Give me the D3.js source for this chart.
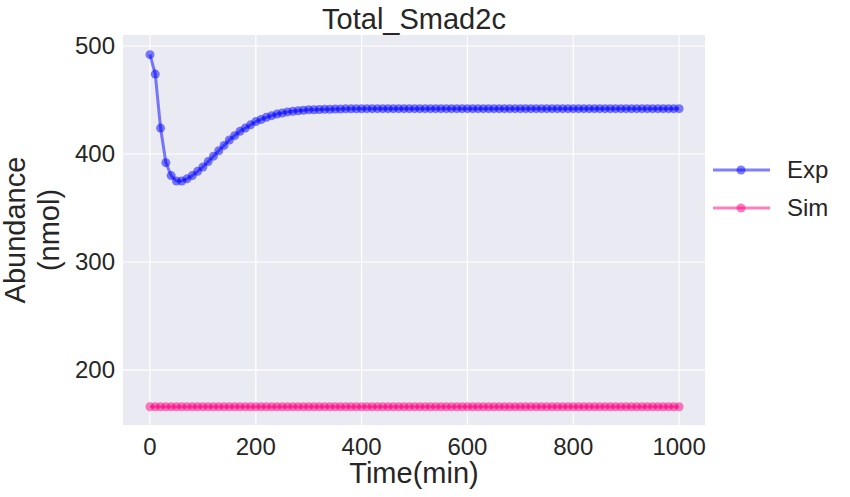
<!DOCTYPE html>
<html><head><meta charset="utf-8">
<script src="https://cdn.jsdelivr.net/npm/d3@7"></script>
<style>body{margin:0;background:#fff;font-family:"Liberation Sans",Arial,sans-serif}</style>
</head><body><svg id="c" width="850" height="497"></svg>
<script>
const times = d3.range(0, 1001, 10);
const expValues = [492,474,424,392,380,375,375,377,380,384,388,393,398,403,408,413,417,421,424,427,430,432,434,435.5,437,438,439,439.5,440,440.5,441,441,441.2,441.4,441.5,441.6,441.7,441.8,441.8,441.9,441.9,442,442,442,442,442,442,442,442,442,442,442,442,442,442,442,442,442,442,442,442,442,442,442,442,442,442,442,442,442,442,442,442,442,442,442,442,442,442,442,442,442,442,442,442,442,442,442,442,442,442,442,442,442,442,442,442,442,442,442,442];
const simValues = times.map(() => 166);
const xTicks = [0,200,400,600,800,1000];
const yTicks = [200,300,400,500];

const svg = d3.select("#c");
const L=123,R=705,T=35,B=425;
const x = d3.scaleLinear().domain([-51,1049]).range([L,R]);
const y = d3.scaleLinear().domain([149.1,510.2]).range([B,T]);

svg.append("rect").attr("x",L).attr("y",T).attr("width",R-L).attr("height",B-T).attr("fill","#eaeaf2");
svg.selectAll(".gx").data(xTicks).enter().append("line").attr("x1",d=>x(d)).attr("x2",d=>x(d)).attr("y1",T).attr("y2",B).attr("stroke","#fff").attr("stroke-width",1.2);
svg.selectAll(".gy").data(yTicks).enter().append("line").attr("y1",d=>y(d)).attr("y2",d=>y(d)).attr("x1",L).attr("x2",R).attr("stroke","#fff").attr("stroke-width",1.2);

const series = [{name:"Exp",vals:expValues,color:"#0000ff"},{name:"Sim",vals:simValues,color:"#ff0080"}];
const line = d3.line().x((d,i)=>x(times[i])).y(d=>y(d));
series.forEach(s=>{
  svg.append("path").attr("d",line(s.vals)).attr("fill","none").attr("stroke",s.color).attr("stroke-opacity",0.5).attr("stroke-width",3);
  svg.append("g").selectAll("circle").data(s.vals).enter().append("circle")
    .attr("cx",(d,i)=>x(times[i])).attr("cy",d=>y(d)).attr("r",4.5).attr("fill",s.color).attr("fill-opacity",0.5);
});

const tf = 24;
svg.selectAll(".xt").data(xTicks).enter().append("text").attr("x",d=>x(d)).attr("y",B+30).attr("text-anchor","middle").attr("font-size",tf).attr("fill","#262626").text(d=>d);
svg.selectAll(".yt").data(yTicks).enter().append("text").attr("x",L-8).attr("y",d=>y(d)+8).attr("text-anchor","end").attr("font-size",tf).attr("fill","#262626").text(d=>d);
svg.append("text").attr("x",(L+R)/2).attr("y",483).attr("text-anchor","middle").attr("font-size",29).attr("fill","#262626").text("Time(min)");
svg.append("text").attr("x",(L+R)/2).attr("y",29).attr("text-anchor","middle").attr("font-size",29).attr("fill","#262626").text("Total_Smad2c");
const yl = svg.append("text").attr("transform",`translate(41,${(T+B)/2}) rotate(-90)`).attr("text-anchor","middle").attr("font-size",29).attr("fill","#262626");
yl.append("tspan").attr("x",0).attr("dy",-16).text("Abundance");
yl.append("tspan").attr("x",0).attr("dy",34).text("(nmol)");

series.forEach((s,i)=>{
  const ly = 170 + i*38;
  svg.append("line").attr("x1",713).attr("x2",770).attr("y1",ly).attr("y2",ly).attr("stroke",s.color).attr("stroke-opacity",0.5).attr("stroke-width",3);
  svg.append("circle").attr("cx",741).attr("cy",ly).attr("r",4.5).attr("fill",s.color).attr("fill-opacity",0.5);
  svg.append("text").attr("x",787).attr("y",ly+8).attr("font-size",tf).attr("fill","#262626").text(s.name);
});
</script></body></html>
